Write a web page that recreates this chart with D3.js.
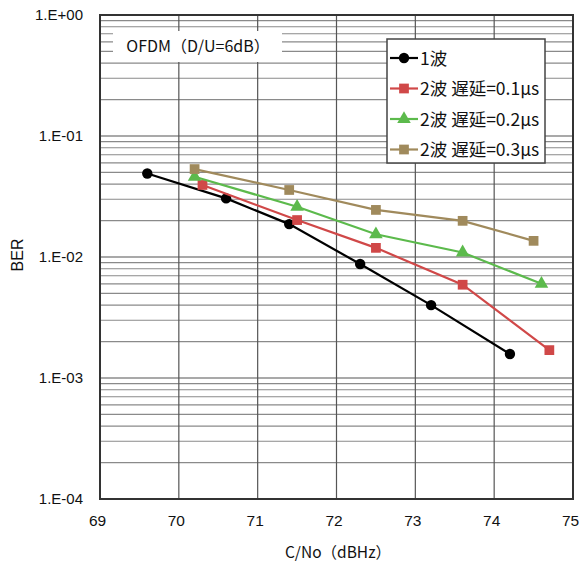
<!DOCTYPE html>
<html>
<head>
<meta charset="utf-8">
<script src="https://cdn.jsdelivr.net/npm/d3@7"></script>
<style>
  body { margin: 0; background: #fff; }
  svg { font-family: "Noto Sans CJK JP", "Noto Sans", sans-serif; }
</style>
</head>
<body>
<div id="chart"></div>
<script>
// data
const seriesNames = ["1波", "2波 遅延=0.1μs", "2波 遅延=0.2μs", "2波 遅延=0.3μs"];
const seriesColors = ["#000000", "#d04848", "#5cba4c", "#a08a5c"];
const seriesShapes = ["circle", "square", "triangle", "square"];
const x1wave = [69.6, 70.6, 71.4, 72.3, 73.2, 74.2];
const ber1wave = [0.049, 0.0305, 0.0187, 0.00875, 0.0040, 0.00158];
const xDelay01 = [70.3, 71.5, 72.5, 73.6, 74.7];
const berDelay01 = [0.0394, 0.0202, 0.0119, 0.0059, 0.0017];
const xDelay02 = [70.2, 71.5, 72.5, 73.6, 74.6];
const berDelay02 = [0.046, 0.026, 0.0154, 0.0109, 0.0060];
const xDelay03 = [70.2, 71.4, 72.5, 73.6, 74.5];
const berDelay03 = [0.0533, 0.0358, 0.0245, 0.0199, 0.0136];
const xTicks = [69, 70, 71, 72, 73, 74, 75];
const yTicks = [1, 0.1, 0.01, 0.001, 0.0001];
const yTickLabels = ["1.E+00", "1.E-01", "1.E-02", "1.E-03", "1.E-04"];

const series = [
  { xs: x1wave, ys: ber1wave },
  { xs: xDelay01, ys: berDelay01 },
  { xs: xDelay02, ys: berDelay02 },
  { xs: xDelay03, ys: berDelay03 }
];

const W = 580, H = 565;
const margin = { top: 15, right: 7, bottom: 66, left: 100 };
const width = W - margin.left - margin.right;
const height = H - margin.top - margin.bottom;

const svg = d3.select("#chart").append("svg")
  .attr("width", W)
  .attr("height", H);

const x = d3.scaleLinear().domain([69, 75]).range([0, width]);
const y = d3.scaleLog().domain([1e-4, 1]).range([height, 0]);

const g = svg.append("g")
  .attr("transform", `translate(${margin.left},${margin.top})`);

// minor horizontal grid (2..9 of each decade)
const minor = [];
for (let e = -4; e < 0; e++) {
  for (let m = 2; m <= 9; m++) minor.push(m * Math.pow(10, e));
}
g.append("g").selectAll("line")
  .data(minor).enter().append("line")
  .attr("x1", 0).attr("x2", width)
  .attr("y1", d => y(d)).attr("y2", d => y(d))
  .attr("stroke", "#8a8a8a").attr("stroke-width", 1.2);

// decade lines
g.append("g").selectAll("line")
  .data(yTicks).enter().append("line")
  .attr("x1", 0).attr("x2", width)
  .attr("y1", d => y(d)).attr("y2", d => y(d))
  .attr("stroke", "#555").attr("stroke-width", 1.2);

// vertical grid
g.append("g").selectAll("line")
  .data(xTicks).enter().append("line")
  .attr("x1", d => x(d)).attr("x2", d => x(d))
  .attr("y1", 0).attr("y2", height)
  .attr("stroke", "#555").attr("stroke-width", 1.2);

// annotation box (white, hides grid)
g.append("rect")
  .attr("x", 13).attr("y", 16).attr("width", 169).attr("height", 31)
  .attr("fill", "#fff");
g.append("text")
  .attr("x", 98).attr("y", 37)
  .attr("text-anchor", "middle")
  .attr("font-size", 16)
  .attr("fill", "#111")
  .text("OFDM（D/U=6dB）");

// frame
g.append("rect")
  .attr("x", 0).attr("y", 0).attr("width", width).attr("height", height)
  .attr("fill", "none").attr("stroke", "#333").attr("stroke-width", 2);

// axes
const xAxis = g.append("g")
  .attr("transform", `translate(0,${height})`)
  .call(d3.axisBottom(x).tickValues(xTicks).tickSize(0).tickPadding(16).tickFormat(d3.format("d")));
xAxis.select(".domain").remove();
xAxis.selectAll("text").attr("font-size", 15.5).attr("fill", "#111").attr("dx", -3)
  .attr("font-family", "Liberation Sans, Arial, sans-serif");

const yAxis = g.append("g")
  .call(d3.axisLeft(y).tickValues(yTicks).tickSize(0).tickPadding(17)
    .tickFormat((d, i) => yTickLabels[i]));
yAxis.select(".domain").remove();
yAxis.selectAll("text").attr("font-size", 15).attr("fill", "#111")
  .attr("font-family", "Liberation Sans, Arial, sans-serif");

svg.append("text")
  .attr("transform", `translate(23,${margin.top + y(0.01) - 2}) rotate(-90)`)
  .attr("text-anchor", "middle")
  .attr("font-size", 16)
  .attr("fill", "#111")
  .attr("font-family", "Liberation Sans, Arial, sans-serif")
  .text("BER");

svg.append("text")
  .attr("x", 338).attr("y", 558)
  .attr("text-anchor", "middle")
  .attr("font-size", 15.5)
  .attr("fill", "#111")
  .text("C/No（dBHz）");

// markers
const sym = {
  circle: d3.symbol().type(d3.symbolCircle).size(85),
  square: d3.symbol().type(d3.symbolSquare).size(95),
  triangle: d3.symbol().type(d3.symbolTriangle).size(80)
};

const line = d3.line().x(d => x(d[0])).y(d => y(d[1]));

series.forEach((s, i) => {
  const pts = s.xs.map((v, j) => [v, s.ys[j]]);
  g.append("path")
    .datum(pts)
    .attr("d", line)
    .attr("fill", "none")
    .attr("stroke", seriesColors[i])
    .attr("stroke-width", 2.2);
  g.append("g").selectAll("path")
    .data(pts).enter().append("path")
    .attr("transform", d => `translate(${x(d[0])},${y(d[1])})`)
    .attr("d", sym[seriesShapes[i]])
    .attr("fill", seriesColors[i]);
});

// legend
const lg = svg.append("g").attr("transform", "translate(387,39)");
lg.append("rect")
  .attr("width", 158).attr("height", 124)
  .attr("fill", "#fff").attr("stroke", "#444").attr("stroke-width", 1.5);
seriesNames.forEach((name, i) => {
  const yy = 19 + i * 30.5;
  lg.append("line")
    .attr("x1", 3).attr("x2", 31).attr("y1", yy).attr("y2", yy)
    .attr("stroke", seriesColors[i]).attr("stroke-width", 2.2);
  lg.append("path")
    .attr("transform", `translate(17,${yy})`)
    .attr("d", sym[seriesShapes[i]])
    .attr("fill", seriesColors[i]);
  lg.append("text")
    .attr("x", 33).attr("y", yy + 6.5)
    .attr("font-size", 17.5)
    .attr("fill", "#111")
    .text(name);
});
</script>
</body>
</html>
